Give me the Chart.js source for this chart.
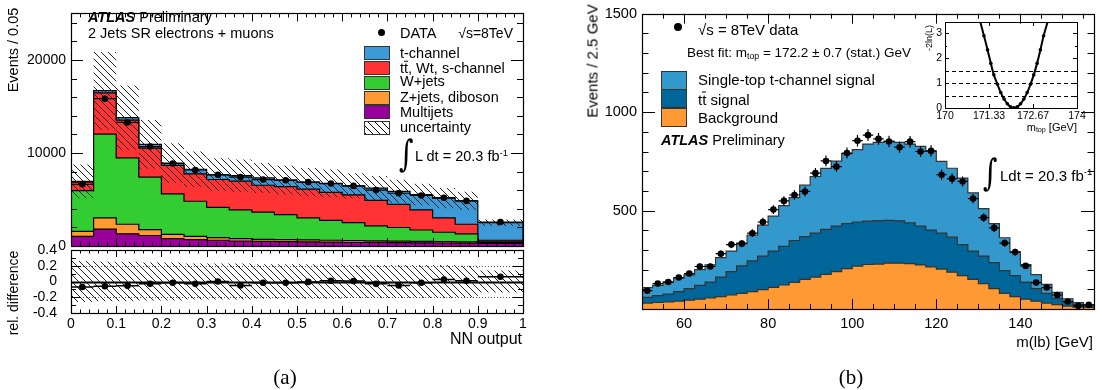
<!DOCTYPE html>
<html>
<head>
<meta charset="utf-8">
<title>Single top t-channel</title>
<script src="https://cdn.jsdelivr.net/npm/chart.js@4.4.1/dist/chart.umd.min.js"></script>
<style>
    body { margin: 0; width: 1102px; height: 390px; position: relative; overflow: hidden; background: #fff;
           font-family: "Liberation Sans", Arial, sans-serif; color: #000; }
    canvas { position: absolute; left: 0; top: 0; }
    .t { position: absolute; white-space: nowrap; line-height: 1; transform: translateY(-50%); }
    .r { transform: translate(-100%, -50%); }
    .rot { position: absolute; white-space: nowrap; line-height: 1; transform: translate(-50%, -50%) rotate(-90deg); }
    .box { position: absolute; box-sizing: border-box; border: 1px solid #333; }
    .dot { position: absolute; border-radius: 50%; background: #000; }
    .atlas { font-weight: bold; font-style: italic; }
    .integ { position: absolute; font-family: "DejaVu Serif", serif; line-height: 1; transform-origin: top left; }
    .cap { position: absolute; font-family: "Liberation Serif", "Times New Roman", serif; font-size: 21px; line-height: 1; transform: translate(-50%, -50%); }
    .ov { display: inline-block; border-top: 1px solid #000; line-height: 0.78; padding-top: 1px; }
    sup { font-size: 65%; vertical-align: 0.55em; line-height: 0; }
    sub { font-size: 65%; vertical-align: -0.25em; line-height: 0; }
</style>
</head>
<body>
<canvas id="nnMain" width="1102" height="390"></canvas>
<canvas id="nnRatio" width="1102" height="390"></canvas>
<canvas id="mlbMain" width="1102" height="390"></canvas>
<canvas id="likeInset" width="1102" height="390"></canvas>

<!-- panel (a) texts -->
<div class="t" style="left:88px;top:17px;font-size:14.5px"><span class="atlas">ATLAS</span> Preliminary</div>
<div class="t" style="left:88px;top:33px;font-size:14.5px">2 Jets SR electrons + muons</div>
<div class="dot" style="left:378px;top:29px;width:7px;height:7px"></div>
<div class="t" style="left:400px;top:33px;font-size:14.5px">DATA</div>
<div class="t r" style="left:513px;top:33px;font-size:14px">&radic;s=8TeV</div>
<div class="box" style="left:364px;top:46px;width:26px;height:14px;background:#3d9ad6"></div>
<div class="box" style="left:364px;top:61px;width:26px;height:14px;background:#ff3333"></div>
<div class="box" style="left:364px;top:76px;width:26px;height:14px;background:#33cc33"></div>
<div class="box" style="left:364px;top:91px;width:26px;height:14px;background:#ff9933"></div>
<div class="box" style="left:364px;top:105px;width:26px;height:14px;background:#990099"></div>
<div class="box" style="left:364px;top:121px;width:26px;height:14px;background:repeating-linear-gradient(45deg,#000 0 1px,#fff 1px 5px)"></div>
<div class="t" style="left:400px;top:53px;font-size:14.5px">t-channel</div>
<div class="t" style="left:400px;top:68px;font-size:14.5px">t<span class="ov">t</span>, Wt, s-channel</div>
<div class="t" style="left:400px;top:81px;font-size:14.5px">W+jets</div>
<div class="t" style="left:400px;top:97px;font-size:14.5px">Z+jets, diboson</div>
<div class="t" style="left:400px;top:112px;font-size:14.5px">Multijets</div>
<div class="t" style="left:400px;top:127px;font-size:14.5px">uncertainty</div>
<div class="integ" style="left:399px;top:136px;font-size:28px;transform:scaleY(1.3)">&int;</div>
<div class="t" style="left:415px;top:156px;font-size:14.5px">L dt = 20.3 fb<sup>-1</sup></div>
<div class="rot" style="left:13px;top:50px;font-size:14.5px">Events / 0.05</div>
<div class="rot" style="left:13px;top:293px;font-size:14px">rel. difference</div>
<div class="t r" style="left:522px;top:339px;font-size:16px">NN output</div>
<div class="cap" style="left:285px;top:377px">(a)</div>

<!-- panel (b) texts -->
<div class="dot" style="left:674px;top:23px;width:8px;height:8px"></div>
<div class="t" style="left:698px;top:29px;font-size:15px">&radic;s = 8TeV data</div>
<div class="t" style="left:687px;top:53px;font-size:13.5px">Best fit: m<sub>top</sub> = 172.2 &plusmn; 0.7 (stat.) GeV</div>
<div class="box" style="left:661px;top:71px;width:26px;height:19px;background:#3399cc"></div>
<div class="box" style="left:661px;top:89px;width:26px;height:19px;background:#006699"></div>
<div class="box" style="left:661px;top:108px;width:26px;height:19px;background:#ff9933"></div>
<div class="t" style="left:698px;top:79px;font-size:15px">Single-top t-channel signal</div>
<div class="t" style="left:698px;top:99px;font-size:15px">t<span class="ov">t</span> signal</div>
<div class="t" style="left:698px;top:117px;font-size:15px">Background</div>
<div class="t" style="left:661px;top:140px;font-size:14.5px"><span class="atlas">ATLAS</span> Preliminary</div>
<div class="integ" style="left:983px;top:155px;font-size:28px;transform:scaleY(1.3)">&int;</div>
<div class="t" style="left:1000px;top:175px;font-size:15px">Ldt = 20.3 fb<sup>-1</sup></div>
<div class="rot" style="left:592px;top:61px;font-size:15px">Events / 2.5 GeV</div>
<div class="t r" style="left:1093px;top:341px;font-size:15px">m(lb) [GeV]</div>
<div class="rot" style="left:929px;top:38px;font-size:9px">-2ln(L)</div>
<div class="t r" style="left:1077px;top:127px;font-size:11px">m<sub>top</sub> [GeV]</div>
<div class="cap" style="left:851px;top:377px">(b)</div>

<script>
Chart.defaults.font.family = '"Liberation Sans", Arial, sans-serif';
Chart.defaults.color = '#000';

// ---------- panel (a): NN output, 2 jets SR ----------
const nnEdges = [0, 0.05, 0.1, 0.15, 0.2, 0.25, 0.3, 0.35, 0.4, 0.45, 0.5, 0.55, 0.6, 0.65, 0.7, 0.75, 0.8, 0.85, 0.9, 1.0];
const nnData = [6630, 15830, 13280, 10690, 8860, 8170, 7650, 7410, 7140, 7070, 6870, 6710, 6460, 6010, 5670, 5430, 5190, 4850, 2580];
const nnMultijet = [1030, 1820, 1310, 1130, 790, 690, 620, 540, 500, 470, 440, 420, 400, 380, 360, 340, 320, 300, 280];
const nnZjets = [550, 1200, 1030, 620, 450, 340, 280, 250, 220, 210, 210, 200, 190, 180, 170, 160, 150, 140, 80];
const nnWjets = [4370, 9010, 7140, 5660, 4360, 3780, 3260, 3090, 2920, 2690, 2370, 2130, 1920, 1610, 1460, 1220, 1010, 870, 90];
const nnTopBkg = [900, 4420, 4040, 3110, 3050, 2950, 2990, 3100, 2890, 3020, 3100, 3020, 2990, 2740, 2480, 2160, 1540, 1030, 170];
const nnTchan = [100, 240, 270, 410, 250, 490, 510, 580, 790, 690, 750, 960, 960, 1310, 1410, 1650, 2130, 2510, 1890];
const nnUnc = [0.26, 0.25, 0.25, 0.24, 0.24, 0.23, 0.23, 0.23, 0.22, 0.22, 0.22, 0.22, 0.21, 0.21, 0.21, 0.21, 0.21, 0.2, 0.14];
const nnRelDiff = [-0.07, -0.06, -0.055, -0.03, -0.015, -0.03, 0, -0.05, -0.015, -0.015, -0.005, 0.01, 0.005, -0.03, -0.05, -0.015, 0.025, 0.01, 0.06];
const nnXTicks = [0, 0.1, 0.2, 0.3, 0.4, 0.5, 0.6, 0.7, 0.8, 0.9, 1];
const nnYTicks = [0, 10000, 20000];
const relYTicks = [-0.4, -0.2, 0, 0.2, 0.4];

// ---------- panel (b): m(lb) ----------
const mlbEdges = [50, 52.5, 55, 57.5, 60, 62.5, 65, 67.5, 70, 72.5, 75, 77.5, 80, 82.5, 85, 87.5, 90, 92.5, 95, 97.5,
    100, 102.5, 105, 107.5, 110, 112.5, 115, 117.5, 120, 122.5, 125, 127.5, 130, 132.5, 135, 137.5, 140, 142.5, 145,
    147.5, 150, 152.5, 155, 157.5];
const mlbData = [93, 129, 137, 160, 180, 216, 216, 281, 327, 332, 385, 442, 505, 549, 579, 597, 690, 752, 723, 792,
    855, 883, 864, 851, 822, 850, 800, 803, 682, 662, 648, 561, 464, 412, 335, 289, 219, 134, 109, 71, 38, 16, 21];
const mlbBackground = [30, 33, 36, 40, 45, 50, 56, 63, 71, 79, 88, 98, 110, 122, 135, 150, 162, 176, 190, 205,
    218, 226, 228, 233, 233, 230, 224, 214, 203, 187, 170, 150, 129, 104, 79, 63, 50, 40, 30, 22, 15, 10, 8];
const mlbTtbar = [29, 35, 40, 48, 59, 70, 81, 99, 119, 140, 156, 171, 184, 196, 213, 218, 223, 228, 231, 229,
    224, 220, 221, 217, 215, 207, 197, 187, 182, 178, 157, 144, 140, 132, 116, 107, 87, 64, 49, 32, 21, 12, 6];
const mlbTchan = [50, 52, 61, 69, 69, 80, 87, 99, 104, 116, 132, 157, 178, 207, 218, 261, 288, 310, 330, 355,
    368, 392, 397, 401, 398, 401, 405, 401, 365, 350, 338, 296, 241, 198, 167, 120, 88, 71, 46, 30, 16, 10, 6];
const mlbXTicks = [60, 80, 100, 120, 140];
const mlbYTicks = [500, 1000, 1500];

// ---------- inset: likelihood scan ----------
const likeMass = [171.18, 171.29, 171.39, 171.48, 171.59, 171.69, 171.79, 171.89, 171.99, 172.09, 172.19, 172.29,
    172.39, 172.49, 172.59, 172.69, 172.79, 172.89, 172.99];
const likeVal = [2.90, 2.33, 1.79, 1.33, 0.95, 0.62, 0.36, 0.17, 0.05, 0.01, 0.05, 0.17, 0.36, 0.62, 0.95, 1.33, 1.79, 2.33, 2.90];
const likeCurveEnds = [[171.06, 3.5], [173.12, 3.5]];
const likeXTicks = [170, 171.3333, 172.6667, 174];
const likeXLabels = ['170', '171.33', '172.67', '174'];
const likeYTicks = [0, 1, 2, 3];
const likeLevels = [0.5, 1, 1.5];

// ---------- helpers ----------
function cumulate(list) {
    const out = [];
    let run = list[0].map(() => 0);
    list.forEach(arr => {
        run = run.map((r, i) => r + arr[i]);
        out.push(run);
    });
    return out;
}

// closed histogram outline (drops to 0 at both ends)
function histSteps(edges, vals) {
    const pts = [{ x: edges[0], y: 0 }];
    vals.forEach((v, i) => pts.push({ x: edges[i], y: v }));
    pts.push({ x: edges[edges.length - 1], y: vals[vals.length - 1] });
    pts.push({ x: edges[edges.length - 1], y: 0 });
    return pts;
}

function openSteps(edges, vals) {
    const pts = vals.map((v, i) => ({ x: edges[i], y: v }));
    pts.push({ x: edges[edges.length - 1], y: vals[vals.length - 1] });
    return pts;
}

function centers(edges) {
    return edges.slice(0, -1).map((e, i) => (e + edges[i + 1]) / 2);
}

function hatch(size) {
    const c = document.createElement('canvas');
    c.width = c.height = size;
    const g = c.getContext('2d');
    g.strokeStyle = '#222';
    g.lineWidth = 1;
    g.beginPath();
    g.moveTo(-1, -1);
    g.lineTo(size + 1, size + 1);
    g.stroke();
    return g.createPattern(c, 'repeat');
}

const CLEAR = 'rgba(0,0,0,0)';

// ROOT style frame with inward ticks on all four sides, plus reference lines
const rootStyle = {
    id: 'rootStyle',
    beforeDatasetsDraw(chart, args, o) {
        if (!o.lines) return;
        const { ctx, chartArea: a } = chart;
        const ys = chart.scales.y;
        ctx.save();
        o.lines.forEach(l => {
            const py = Math.round(ys.getPixelForValue(l.v)) + 0.5;
            ctx.setLineDash(l.dash || []);
            ctx.lineWidth = l.width || 1;
            ctx.strokeStyle = l.color || '#000';
            ctx.beginPath();
            ctx.moveTo(a.left, py);
            ctx.lineTo(a.right, py);
            ctx.stroke();
        });
        ctx.restore();
    },
    afterDatasetsDraw(chart, args, o) {
        const { ctx, chartArea: a } = chart;
        ctx.save();
        ctx.strokeStyle = '#000';
        ctx.lineWidth = 1;
        ctx.beginPath();
        ['x', 'y'].forEach(id => {
            const t = o[id];
            if (!t) return;
            const s = chart.scales[id];
            const n = Math.round((t.to - t.from) / t.minor);
            for (let k = 0; k <= n; k++) {
                const v = t.from + k * t.minor;
                const major = t.major.some(m => Math.abs(m - v) < t.minor / 10);
                const len = major ? t.majorLen : t.minorLen;
                const p = Math.round(s.getPixelForValue(v)) + 0.5;
                if (id === 'x') {
                    if (p <= a.left + 1 || p >= a.right - 1) continue;
                    ctx.moveTo(p, a.bottom); ctx.lineTo(p, a.bottom - len);
                    ctx.moveTo(p, a.top); ctx.lineTo(p, a.top + len);
                } else {
                    if (p <= a.top + 1 || p >= a.bottom - 1) continue;
                    ctx.moveTo(a.left, p); ctx.lineTo(a.left + len, p);
                    ctx.moveTo(a.right, p); ctx.lineTo(a.right - len, p);
                }
            }
        });
        ctx.stroke();
        ctx.lineWidth = o.frameWidth || 1.2;
        ctx.strokeRect(Math.round(a.left) + 0.5, Math.round(a.top) + 0.5,
            Math.round(a.right - a.left), Math.round(a.bottom - a.top));
        ctx.restore();
    }
};

const errorBars = {
    id: 'errorBars',
    afterDatasetsDraw(chart) {
        const { ctx } = chart;
        const xs = chart.scales.x, ys = chart.scales.y;
        chart.data.datasets.forEach(ds => {
            if (!ds.errs) return;
            ctx.save();
            ctx.strokeStyle = '#000';
            ctx.lineWidth = ds.errWidth || 1.2;
            ctx.beginPath();
            ds.errs.forEach(e => {
                const px = xs.getPixelForValue(e.x), py = ys.getPixelForValue(e.y);
                ctx.moveTo(xs.getPixelForValue(e.xLo), py);
                ctx.lineTo(xs.getPixelForValue(e.xHi), py);
                ctx.moveTo(px, ys.getPixelForValue(e.yLo));
                ctx.lineTo(px, ys.getPixelForValue(e.yHi));
            });
            ctx.stroke();
            ctx.restore();
        });
    }
};

function fixedTicks(values) {
    return s => { s.ticks = values.map(v => ({ value: v })); };
}

function axis(cfg) {
    return {
        type: 'linear',
        min: cfg.min,
        max: cfg.max,
        grid: { display: false, drawTicks: false, tickLength: 0 },
        border: { display: false },
        afterBuildTicks: fixedTicks(cfg.ticks),
        afterFit: s => { s[cfg.fitProp] = cfg.size; },
        ticks: {
            display: cfg.labels !== false,
            autoSkip: false,
            maxRotation: 0,
            minRotation: 0,
            padding: cfg.pad || 4,
            font: { size: cfg.font || 14 },
            callback: cfg.fmt || (v => String(+v.toFixed(2)))
        }
    };
}

function options(rect, yW, xH, xCfg, yCfg, style) {
    return {
        responsive: false,
        animation: false,
        events: [],
        layout: { padding: { left: rect.l - yW, right: 1102 - rect.r, top: rect.t, bottom: 390 - rect.b - xH } },
        plugins: { legend: { display: false }, tooltip: { enabled: false }, rootStyle: style },
        scales: {
            x: axis({ ...xCfg, fitProp: 'height', size: xH }),
            y: axis({ ...yCfg, fitProp: 'width', size: yW })
        }
    };
}

// smallest cumulative first, so it is drawn on top
function stackDatasets(edges, stack, colors, border) {
    return stack.map((vals, i) => ({
        data: histSteps(edges, vals),
        stepped: true,
        fill: 'origin',
        backgroundColor: colors[i],
        borderColor: border,
        borderWidth: 1.2,
        pointRadius: 0
    }));
}

function dataPoints(xs, ys, errs, extra) {
    return {
        data: xs.map((x, i) => ({ x, y: ys[i] })),
        showLine: false,
        pointRadius: 3.3,
        pointBackgroundColor: '#000',
        pointBorderWidth: 0,
        errs,
        ...extra
    };
}

// ---------- panel (a) main ----------
const hatchPattern = hatch(7);
const nnCenters = centers(nnEdges);
const nnStack = cumulate([nnMultijet, nnZjets, nnWjets, nnTopBkg, nnTchan]);
const nnTotal = nnStack[nnStack.length - 1];
const nnColors = ['#990099', '#ff9933', '#33cc33', '#ff3333', '#3d9ad6'];

new Chart(document.getElementById('nnMain'), {
    type: 'line',
    data: {
        datasets: [
            dataPoints(nnCenters, nnData, nnCenters.map((x, i) => ({
                x, y: nnData[i], xLo: nnEdges[i], xHi: nnEdges[i + 1],
                yLo: nnData[i] - Math.sqrt(nnData[i]), yHi: nnData[i] + Math.sqrt(nnData[i])
            }))),
            {
                data: openSteps(nnEdges, nnTotal.map((t, i) => t * (1 + nnUnc[i]))),
                stepped: true, fill: '+1', backgroundColor: hatchPattern, borderColor: CLEAR, pointRadius: 0
            },
            {
                data: openSteps(nnEdges, nnTotal.map((t, i) => t * (1 - nnUnc[i]))),
                stepped: true, fill: false, borderColor: CLEAR, pointRadius: 0
            },
            ...stackDatasets(nnEdges, nnStack, nnColors, '#000')
        ]
    },
    options: options({ l: 71, t: 3, r: 523, b: 246 }, 50, 0,
        { min: 0, max: 1, ticks: nnXTicks, labels: false },
        { min: 0, max: 25000, ticks: nnYTicks, pad: 5 },
        {
            x: { from: 0, to: 1, minor: 0.02, major: nnXTicks, majorLen: 8, minorLen: 4 },
            y: { from: 0, to: 25000, minor: 2000, major: nnYTicks, majorLen: 12, minorLen: 6 }
        }),
    plugins: [rootStyle, errorBars]
});

// ---------- panel (a) ratio ----------
new Chart(document.getElementById('nnRatio'), {
    type: 'line',
    data: {
        datasets: [
            dataPoints(nnCenters, nnRelDiff, nnCenters.map((x, i) => ({
                x, y: nnRelDiff[i], xLo: nnEdges[i], xHi: nnEdges[i + 1],
                yLo: nnRelDiff[i] - 1 / Math.sqrt(nnData[i]), yHi: nnRelDiff[i] + 1 / Math.sqrt(nnData[i])
            })), { errWidth: 1.5 }),
            {
                data: openSteps(nnEdges, nnUnc),
                stepped: true, fill: '+1', backgroundColor: hatchPattern, borderColor: CLEAR, pointRadius: 0
            },
            {
                data: openSteps(nnEdges, nnUnc.map(u => -u)),
                stepped: true, fill: false, borderColor: CLEAR, pointRadius: 0
            }
        ]
    },
    options: options({ l: 71, t: 250, r: 523, b: 313 }, 50, 30,
        { min: 0, max: 1, ticks: nnXTicks, pad: 3 },
        { min: -0.4, max: 0.4, ticks: relYTicks, pad: 14 },
        {
            x: { from: 0, to: 1, minor: 0.02, major: nnXTicks, majorLen: 7, minorLen: 3.5 },
            y: { from: -0.4, to: 0.4, minor: 0.1, major: relYTicks, majorLen: 10, minorLen: 5 },
            lines: [
                { v: 0, width: 2 },
                { v: 0.2, dash: [1, 2], color: '#555' },
                { v: -0.2, dash: [1, 2], color: '#555' }
            ]
        }),
    plugins: [rootStyle, errorBars]
});

// ---------- panel (b) main ----------
const mlbCenters = centers(mlbEdges);
const mlbStack = cumulate([mlbBackground, mlbTtbar, mlbTchan]);
const mlbColors = ['#ff9933', '#006699', '#3399cc'];

new Chart(document.getElementById('mlbMain'), {
    type: 'line',
    data: {
        datasets: [
            dataPoints(mlbCenters, mlbData, mlbCenters.map((x, i) => ({
                x, y: mlbData[i], xLo: mlbEdges[i], xHi: mlbEdges[i + 1],
                yLo: mlbData[i] - Math.sqrt(mlbData[i]), yHi: mlbData[i] + Math.sqrt(mlbData[i])
            }))),
            ...stackDatasets(mlbEdges, mlbStack, mlbColors, '#333')
        ]
    },
    options: options({ l: 642, t: 8, r: 1094, b: 309 }, 50, 30,
        { min: 50, max: 157.5, ticks: mlbXTicks, pad: 6, font: 14.5 },
        { min: 0, max: 1500, ticks: mlbYTicks, pad: 5, font: 14.5 },
        {
            x: { from: 50, to: 155, minor: 5, major: mlbXTicks, majorLen: 10, minorLen: 5 },
            y: { from: 0, to: 1500, minor: 100, major: mlbYTicks, majorLen: 13, minorLen: 6.5 }
        }),
    plugins: [rootStyle, errorBars]
});

// ---------- inset ----------
new Chart(document.getElementById('likeInset'), {
    type: 'line',
    data: {
        datasets: [
            dataPoints(likeMass, likeVal, null, { pointRadius: 1.8 }),
            {
                data: [likeCurveEnds[0]].concat(likeMass.map((m, i) => [m, likeVal[i]]), [likeCurveEnds[1]])
                    .map(p => ({ x: p[0], y: p[1] })),
                borderColor: '#000',
                borderWidth: 2,
                tension: 0.4,
                pointRadius: 0,
                fill: false
            }
        ]
    },
    options: options({ l: 945, t: 22, r: 1077, b: 108 }, 20, 16,
        { min: 170, max: 174, ticks: likeXTicks, pad: 2, font: 10.5, fmt: (v, i) => likeXLabels[i] },
        { min: 0, max: 3.45, ticks: likeYTicks, pad: 3, font: 10.5 },
        {
            x: { from: 170, to: 174, minor: 4 / 3, major: likeXTicks, majorLen: 4, minorLen: 4 },
            y: { from: 0, to: 3, minor: 0.5, major: likeYTicks, majorLen: 4, minorLen: 2 },
            frameWidth: 1,
            lines: likeLevels.map(v => ({ v, dash: [4, 3] }))
        }),
    plugins: [rootStyle]
});
</script>
</body>
</html>
